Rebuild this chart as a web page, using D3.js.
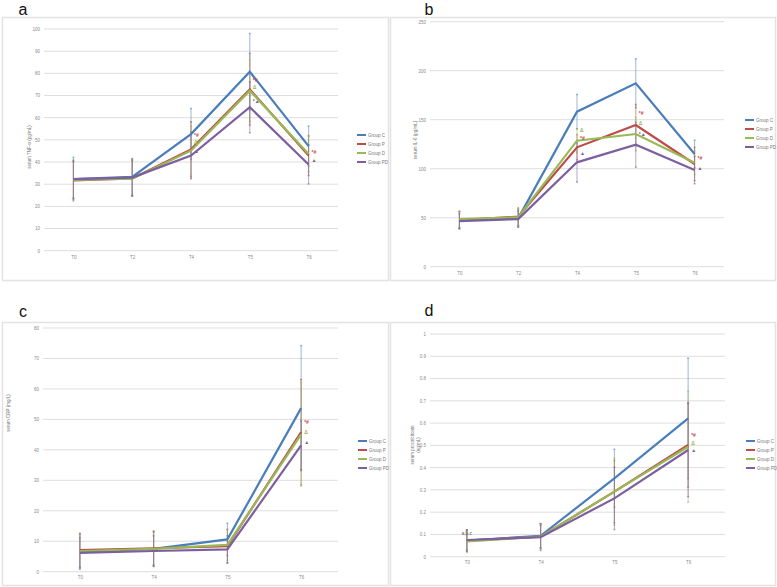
<!DOCTYPE html>
<html><head><meta charset="utf-8">
<script src="https://cdn.jsdelivr.net/npm/d3@7"></script>
<style>body{margin:0;background:#fff}svg{display:block;font-family:"Liberation Sans","DejaVu Sans",sans-serif}</style>
</head><body><svg id="c" width="777" height="587"></svg>
<script>
const groups = ["Group C", "Group P", "Group D", "Group PD"];
const colors = ["#4a7ebb", "#be4b48", "#98b954", "#7d5fa0"];

// Panel a: serum TNF-α
const catsA = ["T0", "T2", "T4", "T5", "T6"];
const aC = [32.3, 33.3, 52.6, 80.7, 47.2];
const aP = [31.7, 32.6, 45.7, 72.8, 42.9];
const aD = [31.9, 32.5, 45.1, 72.2, 43.6];
const aPD = [32.3, 33.0, 42.9, 64.7, 38.9];
const aSdC = [9.8, 8.3, 11.5, 17.3, 9.0];
const aSdP = [8.5, 8.0, 12.5, 16.2, 9.0];
const aSdD = [8.3, 8.0, 11.0, 14.0, 8.0];
const aSdPD = [8.5, 8.2, 10.5, 11.5, 8.8];
const aTicks = [0, 10, 20, 30, 40, 50, 60, 70, 80, 90, 100];
const aNotes = [[1, 2, 52, "*#"], [2, 2, 49, "Δ"], [3, 2, 45, "▲"], [1, 3, 77, "*#"], [2, 3, 74, "Δ"], [3, 3, 67.5, "*▲"], [1, 4, 44.5, "*#"], [3, 4, 41, "▲"]];

// Panel b: serum IL-6
const catsB = ["T0", "T2", "T4", "T5", "T6"];
const bC = [47.6, 49.3, 158.2, 187.1, 115.0];
const bP = [47.6, 51.0, 121.8, 144.6, 104.8];
const bD = [48.5, 50.5, 128.6, 135.4, 106.0];
const bPD = [46.6, 48.6, 106.5, 124.5, 98.6];
const bSdC = [8.5, 9.0, 17.5, 25.0, 14.0];
const bSdP = [9.0, 9.0, 13.0, 21.0, 17.0];
const bSdD = [8.0, 8.5, 12.0, 17.0, 12.0];
const bSdPD = [7.5, 8.0, 20.0, 23.0, 14.0];
const bTicks = [0, 50, 100, 150, 200, 250];
const bNotes = [[2, 2, 140, "Δ"], [1, 2, 131, "*#"], [3, 2, 116, "▲"], [1, 3, 157, "*#"], [2, 3, 147, "Δ"], [3, 3, 135, "*▲"], [1, 4, 111, "*#"], [3, 4, 101, "▲"]];

// Panel c: serum CRP
const catsC = ["T0", "T4", "T5", "T6"];
const cC = [6.6, 7.5, 10.6, 53.7];
const cP = [7.1, 7.7, 8.4, 45.8];
const cD = [6.8, 7.5, 8.8, 45.1];
const cPD = [6.2, 6.8, 7.3, 41.5];
const cSdC = [5.8, 5.8, 5.3, 20.5];
const cSdP = [5.5, 5.5, 5.5, 17.3];
const cSdD = [5.3, 5.3, 5.0, 17.0];
const cSdPD = [5.0, 5.0, 4.5, 8.0];
const cTicks = [0, 10, 20, 30, 40, 50, 60, 70, 80];
const cNotes = [[1, 3, 49, "*#"], [2, 3, 46, "Δ"], [3, 3, 42.5, "▲"]];

// Panel d: serum procalcitonin
const catsD = ["T0", "T4", "T5", "T6"];
const dC = [0.072, 0.094, 0.352, 0.621];
const dP = [0.072, 0.090, 0.292, 0.502];
const dD = [0.069, 0.090, 0.292, 0.494];
const dPD = [0.075, 0.088, 0.262, 0.479];
const dSdC = [0.048, 0.055, 0.13, 0.27];
const dSdP = [0.048, 0.050, 0.14, 0.19];
const dSdD = [0.050, 0.055, 0.15, 0.25];
const dSdPD = [0.045, 0.060, 0.14, 0.21];
const dTicks = [0, 0.1, 0.2, 0.3, 0.4, 0.5, 0.6, 0.7, 0.8, 0.9, 1];
const dNotes = [[0, 0, 0.105, "a,b,c"], [1, 3, 0.545, "*#"], [2, 3, 0.51, "Δ"], [3, 3, 0.48, "▲"]];

const panels = [
  {label: "a", lx: 23, ly: 15, frame: [2, 17, 386, 263], px: [44, 338], py: [250.7, 29], dom: [0, 100], ticks: aTicks,
   cats: catsA, series: [aC, aP, aD, aPD], sds: [aSdC, aSdP, aSdD, aSdPD], notes: aNotes,
   title: ["serum TNF-α (pg/mL)"], tx: 31, ty: 147, xly: 260, legx: 357, legy: 135},
  {label: "b", lx: 429, ly: 15, frame: [390, 17, 385, 263], px: [430, 724], py: [266.7, 21.7], dom: [0, 250], ticks: bTicks,
   cats: catsB, series: [bC, bP, bD, bPD], sds: [bSdC, bSdP, bSdD, bSdPD], notes: bNotes,
   title: ["serum IL-6 (pg/mL)"], tx: 417, ty: 140, xly: 276, legx: 745, legy: 120},
  {label: "c", lx: 23, ly: 317, frame: [2, 322, 386, 263], px: [43, 338], py: [571.7, 328], dom: [0, 80], ticks: cTicks,
   cats: catsC, series: [cC, cP, cD, cPD], sds: [cSdC, cSdP, cSdD, cSdPD], notes: cNotes,
   title: ["serum CRP (mg/L)"], tx: 10, ty: 413, xly: 580, legx: 358, legy: 441},
  {label: "d", lx: 429, ly: 316, frame: [390, 322, 385, 263], px: [430, 725], py: [556.7, 334], dom: [0, 1], ticks: dTicks,
   cats: catsD, series: [dC, dP, dD, dPD], sds: [dSdC, dSdP, dSdD, dSdPD], notes: dNotes,
   title: ["serum procalcitonin", "(ng/mL)"], tx: 414, ty: 445, xly: 565, legx: 746, legy: 441}
];

const svg = d3.select("#c");

panels.forEach(p => {
  const g = svg.append("g");
  g.append("rect").attr("x", p.frame[0] + 0.5).attr("y", p.frame[1] + 0.5)
    .attr("width", p.frame[2]).attr("height", p.frame[3])
    .attr("fill", "#fff").attr("stroke", "#e3e3e3").attr("stroke-width", 1.5);
  g.append("text").attr("x", p.lx).attr("y", p.ly).attr("text-anchor", "middle")
    .attr("font-size", 16).attr("fill", "#111").attr("font-family", "'Liberation Sans', sans-serif").text(p.label);

  const x = d3.scalePoint().domain(p.cats).range(p.px).padding(0.5);
  const y = d3.scaleLinear().domain(p.dom).range(p.py);

  // gridlines
  g.append("g").selectAll("line").data(p.ticks).join("line")
    .attr("x1", p.px[0]).attr("x2", p.px[1])
    .attr("y1", d => y(d)).attr("y2", d => y(d))
    .attr("stroke", "#dedede").attr("stroke-width", 1);

  // y axis labels
  const yAxis = d3.axisLeft(y).tickValues(p.ticks).tickSize(0).tickPadding(4).tickFormat(d => String(+d.toFixed(1)));
  const ya = g.append("g").attr("transform", `translate(${p.px[0]},0)`).call(yAxis);
  ya.select(".domain").remove();
  ya.selectAll("text").attr("font-size", 4.5).attr("fill", "#8a8a8a");

  // x axis labels
  const xAxis = d3.axisBottom(x).tickSize(0).tickPadding(0);
  const xa = g.append("g").attr("transform", `translate(0,${p.xly - 4})`).call(xAxis);
  xa.select(".domain").remove();
  xa.selectAll("text").attr("font-size", 4.5).attr("fill", "#8a8a8a");

  // y title
  const t = g.append("text").attr("transform", `translate(${p.tx},${p.ty}) rotate(-90)`)
    .attr("text-anchor", "middle").attr("font-size", 4.5).attr("fill", "#777");
  p.title.forEach((s, i) => t.append("tspan").attr("x", 0).attr("dy", i === 0 ? 0 : 6).text(s));

  // error bars
  p.series.forEach((ser, si) => {
    const eb = g.append("g").attr("stroke", colors[si]).attr("stroke-opacity", 0.55).attr("stroke-width", 1);
    ser.forEach((v, i) => {
      const cx = x(p.cats[i]);
      const sd = p.sds[si][i];
      eb.append("line").attr("x1", cx).attr("x2", cx).attr("y1", y(v - sd)).attr("y2", y(v + sd));
      [v - sd, v + sd].forEach(e => eb.append("line").attr("x1", cx - 1).attr("x2", cx + 1).attr("y1", y(e)).attr("y2", y(e)).attr("stroke-width", 1.5));
    });
  });

  // lines
  const line = d3.line().x((d, i) => x(p.cats[i])).y(d => y(d));
  p.series.forEach((ser, si) => {
    g.append("path").datum(ser).attr("d", line).attr("fill", "none")
      .attr("stroke", colors[si]).attr("stroke-width", 2.2).attr("stroke-linejoin", "miter");
  });

  // annotations
  p.notes.forEach(n => {
    g.append("text").attr("x", x(p.cats[n[1]]) + (n[3] === "a,b,c" ? 0 : 3)).attr("y", y(n[2]) + 2)
      .attr("font-size", n[3] === "a,b,c" ? 4.5 : 5).attr("fill", n[3] === "a,b,c" ? "#777" : colors[n[0]])
      .attr("text-anchor", n[3] === "a,b,c" ? "middle" : "start").attr("font-weight", "bold").text(n[3]);
  });

  // legend
  const lg = g.append("g").attr("transform", `translate(${p.legx},${p.legy})`);
  groups.forEach((name, i) => {
    lg.append("line").attr("x1", 0).attr("x2", 9).attr("y1", i * 9).attr("y2", i * 9)
      .attr("stroke", colors[i]).attr("stroke-width", 2);
    lg.append("text").attr("x", 11).attr("y", i * 9 + 1.6).attr("font-size", 4.5).attr("fill", "#777").text(name);
  });
});
</script></body></html>
